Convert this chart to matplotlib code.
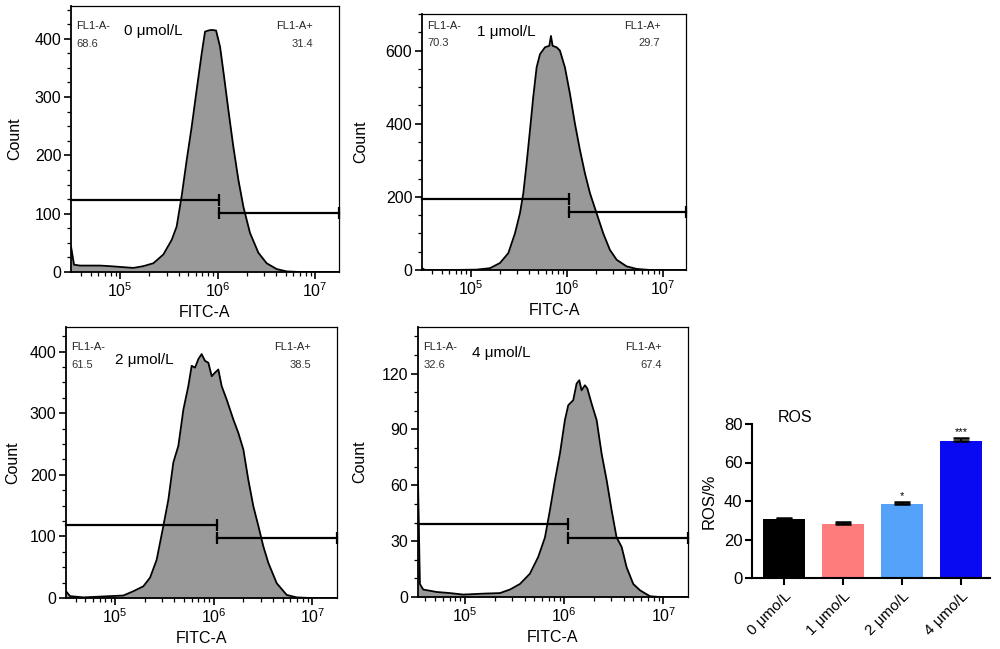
import numpy as np
import matplotlib
matplotlib.use("Agg")
import matplotlib.pyplot as plt
from matplotlib.ticker import MultipleLocator, LogLocator, NullFormatter

plt.rcParams['font.family'] = ['Liberation Sans', 'DejaVu Sans']

# ---- histogram data (log10 FITC-A, count) ----
logx_0 = [4.497, 4.528, 4.59, 4.795, 4.897, 5.137, 5.239, 5.342, 5.444, 5.53, 5.581,
          5.632, 5.684, 5.735, 5.786, 5.838, 5.872, 5.906, 5.94, 5.985, 6.026, 6.067,
          6.111, 6.162, 6.214, 6.265, 6.333, 6.419, 6.504, 6.607, 6.709, 6.846, 7.25]
count_0 = [44, 12.5, 11, 11, 10, 7, 10, 15, 30, 55, 78, 130, 192, 249, 312, 375, 412,
           414, 415, 414, 386, 335, 278, 215, 158, 112, 67, 33, 15, 5, 1, 0, 0]

logx_1 = [4.495, 4.526, 4.785, 5.062, 5.201, 5.304, 5.391, 5.46, 5.512, 5.547, 5.581,
          5.616, 5.65, 5.685, 5.72, 5.772, 5.817, 5.834, 5.851, 5.893, 5.927, 5.979,
          6.031, 6.083, 6.135, 6.187, 6.239, 6.308, 6.377, 6.446, 6.516, 6.619, 6.723,
          6.862, 7.25]
count_1 = [5, 0, 0, 1, 5, 19, 46, 100, 155, 210, 291, 382, 473, 554, 590, 609, 613,
           640, 613, 609, 600, 554, 482, 400, 328, 264, 210, 155, 100, 55, 28, 10, 3, 0, 0]

logx_2 = [4.503, 4.544, 4.679, 4.949, 5.084, 5.186, 5.287, 5.355, 5.422, 5.49, 5.541,
          5.591, 5.642, 5.693, 5.743, 5.777, 5.811, 5.845, 5.878, 5.912, 5.946, 5.98,
          6.014, 6.047, 6.081, 6.132, 6.199, 6.25, 6.301, 6.351, 6.402, 6.453, 6.503,
          6.554, 6.639, 6.74, 6.841, 6.976, 7.25]
count_2 = [11, 3, 1, 3, 4, 11, 19, 33, 62, 117, 160, 220, 247, 306, 344, 377, 374, 388,
           396, 385, 382, 360, 366, 371, 344, 322, 290, 268, 241, 192, 149, 117, 84, 57,
           24, 5, 1, 0, 0]

logx_3 = [4.527, 4.546, 4.58, 4.714, 4.849, 4.983, 5.185, 5.353, 5.454, 5.555, 5.655,
          5.739, 5.807, 5.857, 5.908, 5.958, 6.008, 6.042, 6.092, 6.126, 6.153, 6.176,
          6.21, 6.234, 6.277, 6.328, 6.378, 6.429, 6.479, 6.529, 6.58, 6.63, 6.697,
          6.765, 6.866, 6.966, 7.25]
count_3 = [62.7, 7, 4, 2.7, 2.1, 1.3, 1.8, 2.1, 4, 7, 12.5, 21.5, 32, 46.6, 62.7, 77,
           95, 103, 105.7, 114.6, 116.4, 111, 113.7, 112, 103.9, 95, 77, 62.7, 46.6, 32,
           26.9, 16, 7, 3.6, 0.4, 0, 0]

# gate: (log10 split, left gate count, right gate count)
gates = [(6.02, 123, 100.6), (6.02, 193, 159), (6.03, 118, 97.6), (6.04, 39.4, 31.9)]
neg_pct = ["68.6", "70.3", "61.5", "32.6"]
pos_pct = ["31.4", "29.7", "38.5", "67.4"]
doses = ["0 \u03bcmol/L", "1 \u03bcmol/L", "2 \u03bcmol/L", "4 \u03bcmol/L"]

# ---- bar chart data ----
bar_labels = ["0 \u03bcmo/L", "1 \u03bcmo/L", "2 \u03bcmo/L", "4 \u03bcmo/L"]
ros_mean = [30.5, 28.2, 38.2, 71.0]
ros_err = [0.6, 0.8, 1.3, 1.8]
ros_sig = ["", "", "*", "***"]
bar_colors = ["#000000", "#FF7C7C", "#55A2FA", "#0A0AF2"]

W, H = 1000, 649
fig = plt.figure(figsize=(10, 6.49), dpi=100)

def px_axes(x0, y0, x1, y1):
    return fig.add_axes([x0 / W, 1 - y1 / H, (x1 - x0) / W, (y1 - y0) / H])

hist_boxes = [(71, 6, 339, 272), (422, 14, 686, 270), (66, 327, 337, 598), (418, 327, 688, 597)]
xlims = [(4.497, 7.246), (4.495, 7.236), (4.503, 7.25), (4.527, 7.249)]
ylims = [456, 700, 440, 145]
ymajor = [100, 200, 100, 30]
yminor = [25, 50, 25, 10]
hist_data = [(logx_0, count_0), (logx_1, count_1), (logx_2, count_2), (logx_3, count_3)]
ylab_x = [-0.183, -0.205, -0.17, -0.189]
dose_pos = [(0.198, 0.906), (0.208, 0.93), (0.18, 0.878), (0.2, 0.904)]
lab_top = [0.925, 0.953, 0.926, 0.926]

for i, box in enumerate(hist_boxes):
    ax = px_axes(*box)
    lx, cnt = hist_data[i]
    xs = 10 ** np.array(lx)
    xmin, xmax = 10 ** xlims[i][0], 10 ** xlims[i][1]
    ax.fill_between(xs, cnt, 0, color="#999999", lw=0)
    ax.plot(xs, cnt, color="black", lw=1.3)
    ax.set_xscale("log")
    ax.set_xlim(xmin, xmax)
    ax.set_ylim(0, ylims[i])
    ax.yaxis.set_major_locator(MultipleLocator(ymajor[i]))
    ax.yaxis.set_minor_locator(MultipleLocator(yminor[i]))
    ax.xaxis.set_major_locator(LogLocator(base=10, numticks=10))
    ax.xaxis.set_minor_locator(LogLocator(base=10, subs=np.arange(2, 10), numticks=20))
    ax.xaxis.set_minor_formatter(NullFormatter())
    ax.tick_params(which="major", length=5, width=1.2, labelsize=11.5, pad=2)
    ax.tick_params(which="minor", length=3, width=0.9)
    for s in ax.spines.values():
        s.set_linewidth(0.9)
    ax.spines["left"].set_linewidth(1.3)
    ax.spines["bottom"].set_linewidth(1.3)
    ax.set_ylabel("Count", fontsize=11.5)
    ax.yaxis.set_label_coords(ylab_x[i], 0.5)
    ax.set_xlabel("FITC-A", fontsize=11.5, labelpad=3)

    # gates
    gx, gl, gr = gates[i]
    ax.plot([xmin, 10 ** gx], [gl, gl], color="black", lw=1.6,
            marker="|", markersize=9, markeredgewidth=1.6, markevery=[1], clip_on=False)
    ax.plot([10 ** gx, xmax], [gr, gr], color="black", lw=1.6,
            marker="|", markersize=9, markeredgewidth=1.6, clip_on=False)

    t = lab_top[i]
    ax.text(0.019, t, "FL1-A-", transform=ax.transAxes, fontsize=8, color="#222222", va="center")
    ax.text(0.019, t - 0.068, neg_pct[i], transform=ax.transAxes, fontsize=8, color="#333333", va="center")
    ax.text(0.903, t, "FL1-A+", transform=ax.transAxes, fontsize=8, color="#222222", va="center", ha="right")
    ax.text(0.903, t - 0.068, pos_pct[i], transform=ax.transAxes, fontsize=8, color="#333333", va="center", ha="right")
    ax.text(dose_pos[i][0], dose_pos[i][1], doses[i], transform=ax.transAxes, fontsize=11, va="center")

# ---- ROS bar chart ----
axb = px_axes(752, 424, 990, 578)
pos = np.arange(len(ros_mean))
axb.bar(pos, ros_mean, width=0.71, color=bar_colors)
axb.errorbar(pos, ros_mean, yerr=[np.zeros(4), ros_err], fmt="none", ecolor="black",
             elinewidth=1.5, capsize=6, capthick=1.8)
for p, m, e, s in zip(pos, ros_mean, ros_err, ros_sig):
    if s:
        axb.text(p, m + e + 0.3, s, ha="center", va="bottom", fontsize=8)
axb.set_xlim(-0.54, 3.49)
axb.set_ylim(0, 80)
axb.yaxis.set_major_locator(MultipleLocator(20))
axb.set_xticks(pos)
axb.set_xticklabels(bar_labels, rotation=45, ha="right", rotation_mode="anchor", fontsize=11)
axb.spines["top"].set_visible(False)
axb.spines["right"].set_visible(False)
axb.spines["left"].set_linewidth(1.5)
axb.spines["bottom"].set_linewidth(1.5)
axb.tick_params(axis="y", length=5, width=1.5, labelsize=12, pad=2)
axb.tick_params(axis="x", length=5, width=1.5, pad=3)
axb.set_ylabel("ROS/%", fontsize=12)
axb.yaxis.set_label_coords(-0.147, 0.5)
axb.text(0.11, 1.04, "ROS", transform=axb.transAxes, fontsize=11.5, va="center")

fig.savefig("out.png", dpi=100)
